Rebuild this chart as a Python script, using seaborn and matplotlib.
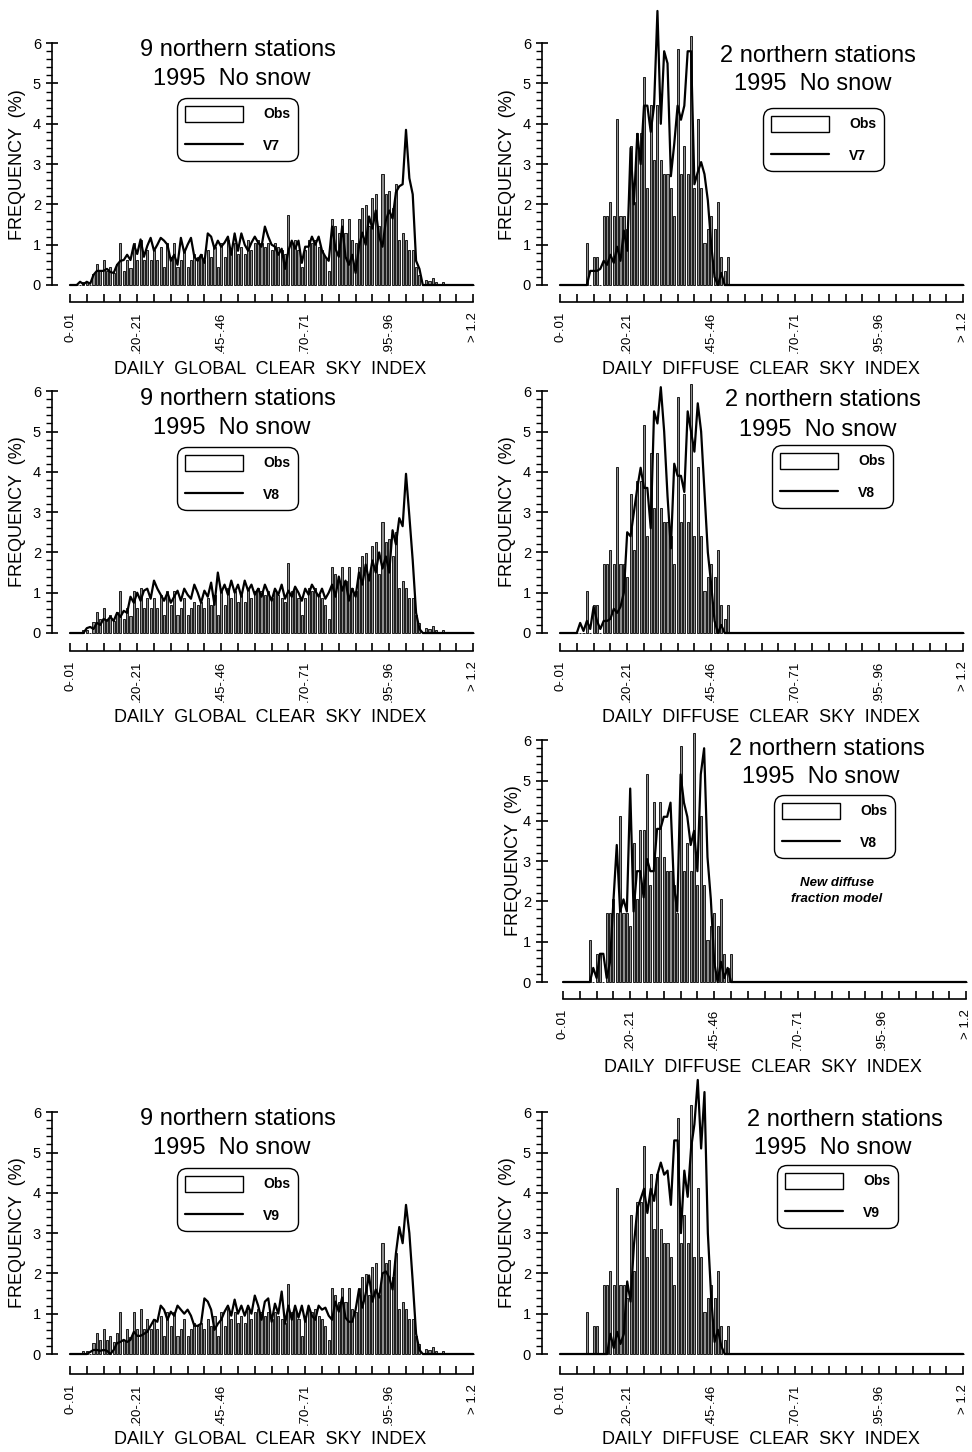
import matplotlib
matplotlib.use("Agg")
import matplotlib.pyplot as plt
import seaborn as sns
from matplotlib.patches import Patch
from matplotlib.lines import Line2D
from matplotlib.ticker import FixedLocator

sns.set_theme(style="white")
plt.rcParams['font.family'] = ['Liberation Sans', 'DejaVu Sans']
plt.rcParams['text.color'] = 'black'
plt.rcParams['axes.labelcolor'] = 'black'
plt.rcParams['xtick.color'] = 'black'
plt.rcParams['ytick.color'] = 'black'

# ---------------- data ----------------
N_BINS = 121
bin_index = list(range(N_BINS))
tick_positions = [0, 20, 45, 70, 95, 120]
tick_labels = ['0-.01', '.20-.21', '.45-.46', '.70-.71', '.95-.96', '> 1.2']


def pad(start, vals):
    return [0.0] * start + list(vals) + [0.0] * (N_BINS - start - len(vals))


# observed daily global clear sky index frequency (%), from bin 4
obs_global = pad(4, [0.08, 0.08, 0, 0.28, 0.52, 0.35, 0.62, 0.35, 0.45, 0.3,
                     0.52, 1.04, 0.35, 0.62, 0.42, 1.04, 0.62, 1.12, 0.62, 0.86,
                     0.62, 0.86, 0.62, 0.95, 0.45, 1.04, 0.7, 1.04, 0.45, 0.62,
                     0.86, 0.45, 0.62, 0.78, 0.7, 0.78, 0.62, 0.86, 0.7, 0.95,
                     0.45, 1.04, 0.7, 1.12, 0.86, 1.04, 0.78, 0.95, 0.78, 1.12,
                     0.86, 1.04, 1.12, 1.04, 0.95, 1.04, 0.86, 1.04, 0.95, 0.86,
                     0.78, 1.73, 1.04, 1.12, 0.86, 0.45, 0.86, 1.12, 1.04, 1.12,
                     0.95, 0.86, 0.7, 0.35, 1.64, 1.47, 1.3, 1.64, 1.3, 1.64,
                     1.12, 1.04, 1.64, 1.9, 1.98, 1.47, 2.16, 2.25, 1.47, 2.76,
                     2.25, 2.33, 1.9, 2.5, 1.12, 1.3, 1.12, 0.86, 0.86, 0.45,
                     0.25, 0, 0.12, 0.1, 0.18, 0.08, 0, 0.08])

v7_global = pad(3, [0.08, 0.02, 0.08, 0.03, 0.25, 0.35, 0.35, 0.35, 0.4, 0.32,
                    0.3, 0.5, 0.6, 0.62, 0.75, 0.62, 1.0, 0.77, 1.13, 0.7,
                    0.97, 1.17, 0.85, 1.0, 1.17, 1.1, 1.0, 0.6, 0.75, 0.5,
                    1.17, 0.8, 1.0, 1.17, 0.7, 0.6, 0.75, 0.55, 1.28, 1.2,
                    0.9, 1.1, 0.95, 1.05, 1.2, 0.75, 1.28, 0.85, 1.28, 1.0,
                    0.85, 1.05, 1.2, 1.05, 0.95, 1.45, 1.2, 1.0, 0.95, 0.75,
                    0.9, 0.4, 0.85, 1.1, 0.9, 1.1, 0.55, 0.95, 0.95, 1.2,
                    1.0, 1.2, 0.85, 0.7, 0.6, 1.45, 0.9, 0.7, 1.45, 0.7,
                    0.5, 0.75, 0.3, 0.95, 1.3, 1.0, 1.7, 1.4, 1.85, 1.2,
                    0.95, 1.6, 1.85, 1.65, 2.3, 2.45, 2.5, 3.85, 2.65, 2.25,
                    0.6, 0.4])

v8_global = pad(5, [0.12, 0.15, 0.1, 0.25, 0.2, 0.35, 0.3, 0.4, 0.3, 0.5,
                    0.4, 0.55, 0.5, 0.9, 0.75, 1.0, 0.8, 1.05, 1.1, 0.85,
                    1.3, 1.1, 0.95, 0.8, 1.0, 0.75, 0.9, 1.05, 0.8, 1.1,
                    0.95, 0.85, 1.2, 1.0, 0.75, 1.05, 0.9, 1.25, 0.7, 1.5,
                    1.0, 1.2, 0.95, 1.3, 1.0, 1.2, 0.9, 1.3, 1.05, 1.2,
                    0.95, 1.1, 0.9, 1.2, 1.0, 0.8, 1.1, 0.95, 1.2, 0.85,
                    1.05, 0.9, 1.15, 1.0, 0.8, 1.1, 0.95, 1.2, 1.05, 0.9,
                    1.1, 0.85, 1.0, 1.2, 0.9, 1.4, 1.05, 1.3, 0.8, 1.1,
                    0.9, 1.5, 1.2, 1.7, 1.3, 1.8, 1.5, 2.0, 1.6, 1.9,
                    1.5, 2.55, 2.2, 2.85, 2.65, 3.95, 2.9, 1.8, 0.5, 0.1])

v9_global = pad(6, [0.05, 0.1, 0.1, 0.08, 0.1, 0.08, 0.0, 0.1, 0.27, 0.3,
                    0.35, 0.3, 0.35, 0.55, 0.45, 0.45, 0.5, 0.55, 0.7, 0.85,
                    0.8, 1.2, 1.1, 0.85, 1.05, 0.95, 1.2, 1.1, 1.0, 1.1,
                    0.95, 0.7, 0.7, 0.75, 1.38, 1.3, 1.1, 0.6, 0.75, 0.85,
                    1.05, 1.2, 0.95, 1.35, 1.0, 1.2, 0.95, 1.2, 1.0, 1.45,
                    1.2, 0.85, 1.3, 1.38, 0.8, 1.25, 1.0, 1.55, 0.75, 1.2,
                    0.85, 1.2, 0.9, 1.2, 0.8, 1.2, 0.95, 0.85, 1.2, 1.1,
                    1.15, 0.95, 0.85, 1.3, 1.05, 1.4, 0.9, 0.8, 0.8, 1.1,
                    1.6, 1.15, 1.5, 1.95, 1.3, 1.6, 1.4, 2.0, 2.05, 1.9,
                    1.6, 2.5, 3.15, 2.75, 3.7, 3.0, 1.8, 0.5, 0.1])

# observed daily diffuse clear sky index frequency (%), from bin 8
obs_diffuse = pad(8, [1.03, 0, 0.69, 0.69, 0, 1.72, 1.72, 2.07, 1.72, 4.13,
                      1.72, 1.72, 1.38, 3.44, 2.07, 3.78, 3.78, 5.16, 2.41, 4.47,
                      3.10, 4.47, 3.10, 2.75, 2.75, 2.41, 1.72, 5.85, 2.75, 3.44,
                      2.75, 6.19, 2.41, 4.13, 2.41, 1.03, 1.38, 1.72, 1.38, 2.07,
                      0.69, 0.35, 0.69])

v7_diffuse = pad(9, [0.35, 0.35, 0.35, 0.4, 0.6, 0.5, 0.75, 0.55, 0.95, 0.6,
                     1.35, 0.85, 3.4, 2.0, 3.75, 3.0, 4.45, 4.45, 3.8, 4.45,
                     6.8, 4.0, 5.8, 5.5, 2.7, 3.5, 4.45, 4.1, 4.45, 5.8,
                     5.8, 2.5, 2.8, 3.05, 2.75, 2.1, 1.0, 0.2, 0.0, 0.3])

v8_diffuse = pad(6, [0.25, 0.05, 0.3, 0.1, 0.65, 0.3, 0.1, 0.3, 0.3, 0.35,
                     0.6, 0.5, 0.65, 1.0, 2.5, 2.4, 3.0, 3.6, 4.1, 3.6,
                     3.6, 2.6, 5.5, 5.2, 6.1, 5.0, 3.4, 2.1, 4.2, 3.9,
                     3.9, 3.5, 5.5, 5.0, 4.5, 5.7, 5.0, 3.5, 2.0, 1.2,
                     0.3, 0.0, 0.2])

v8_new_diffuse = pad(9, [0.35, 0.1, 0.7, 0.7, 0.1, 0.5, 2.0, 3.4, 1.75, 2.05,
                         1.75, 4.8, 1.75, 2.75, 2.75, 2.1, 3.05, 2.75, 2.75, 3.8,
                         3.8, 4.1, 4.1, 4.45, 2.4, 1.75, 5.15, 4.45, 4.1, 3.4,
                         3.75, 2.75, 5.15, 5.8, 3.1, 2.05, 0.5, 0.0, 0.5, 0.1,
                         0.35])

v9_diffuse = pad(15, [0.5, 0.15, 0.55, 0.25, 0.5, 1.8, 1.3, 2.7, 3.6, 3.85,
                      4.1, 3.5, 4.1, 3.8, 4.45, 4.75, 4.45, 4.55, 3.7, 5.3,
                      5.3, 3.0, 4.55, 3.9, 5.1, 5.7, 6.8, 5.1, 6.5, 3.0,
                      1.4, 0.3, 0.6, 0.2])

# ---------------- layout ----------------
W, H = 972, 1452
PXB = 3.36   # pixels per bin
PXU = 40.3   # pixels per 1 % frequency

fig = plt.figure(figsize=(W / 100, H / 100), dpi=100)
fig.patch.set_facecolor('white')

XL_GLOBAL = 'DAILY  GLOBAL  CLEAR  SKY  INDEX'
XL_DIFFUSE = 'DAILY  DIFFUSE  CLEAR  SKY  INDEX'

panels = [
    dict(g=(52, 70, 285, 302), obs=obs_global, line=v7_global, lab='V7', xl=XL_GLOBAL,
         t=('9 northern stations', 238, 50, 232, 79), leg=(177, 98), xlp=(270, 370), ylp=(18, 165)),
    dict(g=(542, 560, 285, 302), obs=obs_diffuse, line=v7_diffuse, lab='V7', xl=XL_DIFFUSE,
         t=('2 northern stations', 818, 56, 813, 84), leg=(763, 108), xlp=(761, 370), ylp=(508, 165)),
    dict(g=(52, 70, 633, 651), obs=obs_global, line=v8_global, lab='V8', xl=XL_GLOBAL,
         t=('9 northern stations', 238, 399, 232, 428), leg=(177, 447), xlp=(270, 718), ylp=(18, 512)),
    dict(g=(542, 560, 633, 651), obs=obs_diffuse, line=v8_diffuse, lab='V8', xl=XL_DIFFUSE,
         t=('2 northern stations', 823, 400, 818, 430), leg=(772, 445), xlp=(761, 718), ylp=(508, 512)),
    dict(g=(542, 563, 982, 999), obs=obs_diffuse, line=v8_new_diffuse, lab='V8', xl=XL_DIFFUSE,
         t=('2 northern stations', 827, 749, 821, 777), leg=(774, 795), xlp=(763, 1068), ylp=(514, 861)),
    dict(g=(52, 70, 1354, 1374), obs=obs_global, line=v9_global, lab='V9', xl=XL_GLOBAL,
         t=('9 northern stations', 238, 1119, 232, 1148), leg=(177, 1168), xlp=(270, 1439), ylp=(18, 1233)),
    dict(g=(542, 560, 1354, 1374), obs=obs_diffuse, line=v9_diffuse, lab='V9', xl=XL_DIFFUSE,
         t=('2 northern stations', 845, 1120, 833, 1148), leg=(777, 1165), xlp=(761, 1439), ylp=(508, 1233)),
]

minor_y = [i / 5 for i in range(31)]

for p in panels:
    spine_x, bin0_x, zero_y, spine_y = p['g']
    right_x = bin0_x + 120 * PXB + 5
    top_y = zero_y - 7 * PXU
    ax = fig.add_axes([spine_x / W, 1 - spine_y / H,
                       (right_x - spine_x) / W, (spine_y - top_y) / H])
    ax.set_facecolor('none')

    sns.barplot(x=bin_index, y=p['obs'], ax=ax, native_scale=True, width=0.62,
                color='#8c8c8c', saturation=1, edgecolor='black', linewidth=0.6,
                errorbar=None)
    sns.lineplot(x=bin_index, y=p['line'], ax=ax, color='black', linewidth=1.6,
                 estimator=None)

    ax.set_xlim(-(bin0_x - spine_x) / PXB, 120 + 5 / PXB)
    ax.set_ylim(-(spine_y - zero_y) / PXU, 7)

    for s in ('top', 'right'):
        ax.spines[s].set_visible(False)
    ax.spines['left'].set_bounds(0, 6)
    ax.spines['bottom'].set_bounds(0, 120)
    for s in ('left', 'bottom'):
        ax.spines[s].set_color('black')
        ax.spines[s].set_linewidth(1.2)

    ax.set_yticks(range(7))
    ax.set_yticklabels([str(v) for v in range(7)])
    ax.yaxis.set_minor_locator(FixedLocator(minor_y))
    ax.tick_params(axis='y', which='major', direction='inout', length=8, width=1.2,
                   labelsize=10.5, pad=4, left=True)
    ax.tick_params(axis='y', which='minor', direction='out', length=4, width=1.0,
                   left=True)

    xt = list(range(0, 121, 5))
    ax.set_xticks(xt)
    ax.set_xticklabels([tick_labels[tick_positions.index(v)] if v in tick_positions else ''
                        for v in xt], rotation=90)
    ax.tick_params(axis='x', which='major', direction='in', length=6, width=1.2,
                   labelsize=9.5, pad=7, bottom=True)

    ax.set_xlabel(p['xl'], fontsize=13)
    ax.set_ylabel('FREQUENCY  (%)', fontsize=13)
    ax_w = right_x - spine_x
    ax_h = spine_y - top_y
    ax.xaxis.label.set_va('center')
    ax.xaxis.set_label_coords((p['xlp'][0] - spine_x) / ax_w, (spine_y - p['xlp'][1]) / ax_h)
    ax.yaxis.label.set_va('center')
    ax.yaxis.set_label_coords((p['ylp'][0] - spine_x) / ax_w, (spine_y - p['ylp'][1]) / ax_h)

    title, tx1, ty1, tx2, ty2 = p['t']
    fig.text(tx1 / W, 1 - ty1 / H, title, ha='center', va='center', fontsize=17)
    fig.text(tx2 / W, 1 - ty2 / H, '1995  No snow', ha='center', va='center', fontsize=17)

    handles = [Patch(facecolor='white', edgecolor='black', linewidth=1.0),
               Line2D([], [], color='black', linewidth=1.6)]
    lx, ly = p['leg']
    leg = ax.legend(handles, ['Obs', p['lab']], loc='upper left',
                    bbox_to_anchor=(lx / W, 1 - ly / H), bbox_transform=fig.transFigure,
                    frameon=True, fancybox=True, framealpha=1, edgecolor='black',
                    handlelength=4.2, handleheight=1.4, labelspacing=1.15,
                    handletextpad=1.45, borderpad=0.55, borderaxespad=0,
                    prop={'weight': 'bold', 'size': 10})
    leg.get_frame().set_linewidth(1.0)
    leg.get_frame().set_boxstyle('round,pad=0,rounding_size=0.7')

fig.text(837 / W, 1 - 891 / H, 'New diffuse\nfraction model', ha='center', va='center',
         fontsize=9.5, fontweight='bold', fontstyle='italic', linespacing=1.45)

fig.savefig('out.png', dpi=100, facecolor='white')
